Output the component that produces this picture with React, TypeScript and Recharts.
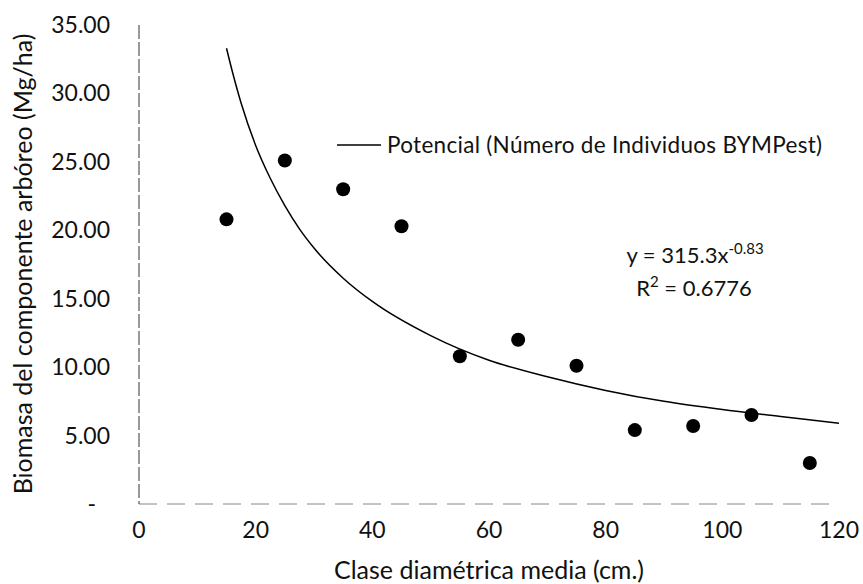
import React from 'react';
import { ComposedChart, Scatter, Line, XAxis, YAxis } from 'recharts';

const diamClass = [15, 25, 35, 45, 55, 65, 75, 85, 95, 105, 115];
const biomass = [20.8, 25.1, 23.0, 20.3, 10.8, 12.0, 10.1, 5.4, 5.7, 6.5, 3.0];

const trendX = [15, 16, 17.5, 20, 22.5, 25, 27.5, 30, 35, 40, 50, 60, 70, 80, 90, 100, 110, 120];
const trendY = [33.3, 31.6, 29.3, 26.2, 23.8, 21.8, 20.1, 18.7, 16.5, 14.8, 12.3, 10.5, 9.3, 8.3, 7.5, 6.9, 6.4, 5.9];

const xTicks = [0, 20, 40, 60, 80, 100, 120];
const yTicks = [0, 5, 10, 15, 20, 25, 30, 35];

const legendLabel = 'Potencial (Número de Individuos BYMPest)';
const xTitle = 'Clase diamétrica media (cm.)';
const yTitle = 'Biomasa del componente arbóreo (Mg/ha)';

const points = diamClass.map((x, i) => ({ x, y: biomass[i] }));
const trend = trendX.map((x, i) => ({ x, t: trendY[i] }));

const FONT = 'Lato, "Open Sans", sans-serif';

const YTick = (props: any) => {
  const { x, y, payload } = props;
  const v = payload.value as number;
  if (v === 0) {
    return (
      <text x={x - 14} y={y} dy="0.35em" textAnchor="end" fontFamily={FONT} fontSize={23} fill="#111">-</text>
    );
  }
  return (
    <text x={x} y={y} dy="0.35em" textAnchor="end" fontFamily={FONT} fontSize={23} fill="#111">{v.toFixed(2)}</text>
  );
};

export default function App() {
  return (
    <div style={{ position: 'absolute', left: 0, top: 0, width: 863, height: 584, background: '#fff' }}>
      <ComposedChart width={863} height={584} margin={{ top: 25, right: 24, bottom: 0, left: 0 }}>
        <XAxis
          type="number"
          dataKey="x"
          domain={[0, 120]}
          ticks={xTicks}
          tickLine={false}
          axisLine={{ stroke: '#888', strokeDasharray: '18 10' }}
          tick={{ fill: '#111', fontSize: 23, fontFamily: FONT }}
          tickMargin={12}
          height={80}
          allowDuplicatedCategory={false}
        />
        <YAxis
          type="number"
          domain={[0, 35]}
          ticks={yTicks}
          tickLine={false}
          axisLine={{ stroke: '#333', strokeDasharray: '14 3' }}
          tick={<YTick />}
          tickMargin={23}
          width={139}
        />
        <Line
          data={trend}
          dataKey="t"
          type="monotone"
          stroke="#000"
          strokeWidth={1.5}
          dot={false}
          isAnimationActive={false}
        />
        <Scatter
          data={points}
          dataKey="y"
          fill="#000"
          shape={(p: any) => <circle cx={p.cx} cy={p.cy} r={7} fill="#000" />}
          isAnimationActive={false}
        />
        <line x1={337} y1={145} x2={381} y2={145} stroke="#000" strokeWidth={1.5} />
        <text x={387} y={145} dy="0.35em" fontFamily={FONT} fontSize={22.5} letterSpacing={0.3} fill="#111">{legendLabel}</text>
        <text x={695} y={255} dy="0.35em" textAnchor="middle" fontFamily={FONT} fontSize={22} fill="#111">
          y = 315.3x<tspan dy={-9} fontSize={15}>-0.83</tspan>
        </text>
        <text x={694} y={288} dy="0.35em" textAnchor="middle" fontFamily={FONT} fontSize={22} fill="#111">
          R<tspan dy={-9} fontSize={15}>2</tspan><tspan dy={9}> = 0.6776</tspan>
        </text>
        <text x={489} y={570} dy="0.35em" textAnchor="middle" fontFamily={FONT} fontSize={25} fill="#111">{xTitle}</text>
        <text x={23} y={264} dy="0.35em" textAnchor="middle" fontFamily={FONT} fontSize={25} fill="#111" transform="rotate(-90 23 264)">{yTitle}</text>
      </ComposedChart>
    </div>
  );
}
